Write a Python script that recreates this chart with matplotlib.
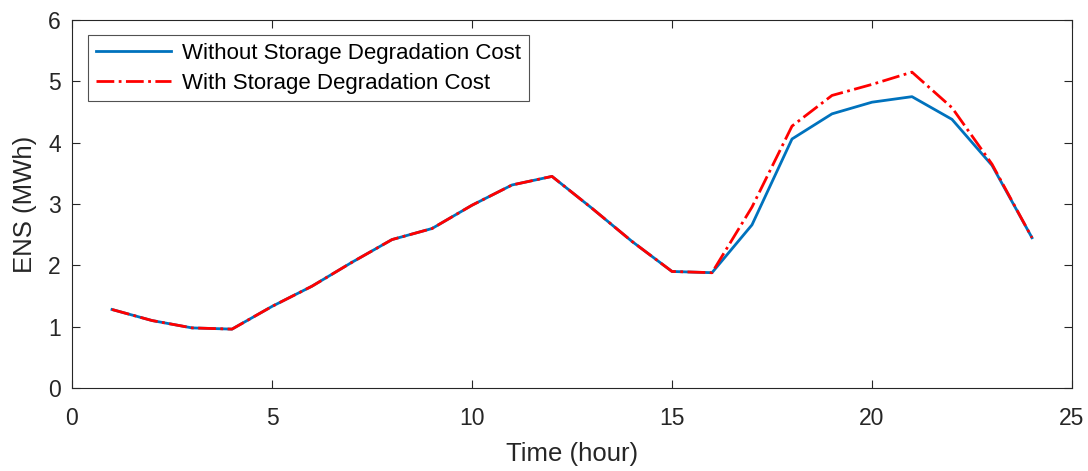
import matplotlib.pyplot as plt

plt.rcParams['font.family'] = ['Liberation Sans', 'DejaVu Sans']

hours = list(range(1, 25))
ens_without = [1.28, 1.10, 0.98, 0.96, 1.33, 1.66, 2.05, 2.42, 2.60, 2.98, 3.31, 3.45,
               2.93, 2.39, 1.90, 1.88, 2.66, 4.06, 4.47, 4.66, 4.75, 4.38, 3.63, 2.45]
ens_with = [1.28, 1.10, 0.98, 0.96, 1.33, 1.66, 2.05, 2.42, 2.60, 2.98, 3.31, 3.45,
            2.93, 2.39, 1.90, 1.88, 2.95, 4.27, 4.77, 4.95, 5.15, 4.57, 3.65, 2.45]

axis_col = '#262626'

fig = plt.figure(figsize=(10.88, 4.71), dpi=100)
ax = fig.add_axes([72/1088, 1 - 388/471, 1000/1088, 368/471])

ax.plot(hours, ens_without, color='#0072BD', lw=2.0, label='Without Storage Degradation Cost')
ax.plot(hours, ens_with, color='red', lw=2.0, ls='-.', label='With Storage Degradation Cost')

ax.set_xlim(0, 25)
ax.set_ylim(0, 6)
ax.set_xticks([0, 5, 10, 15, 20, 25])
ax.set_yticks(range(0, 7))
ax.set_xlabel('Time (hour)', fontsize=18.5, color=axis_col, labelpad=8.5)
ax.set_ylabel('ENS (MWh)', fontsize=18.5, color=axis_col, labelpad=8)
ax.tick_params(direction='in', top=True, right=True, labelsize=16.5, colors=axis_col, length=6, width=0.8)
ax.tick_params(axis='x', pad=13.5)
ax.tick_params(axis='y', pad=8)
for s in ax.spines.values():
    s.set_color(axis_col)
    s.set_linewidth(0.8)

leg = ax.legend(loc='upper left', bbox_to_anchor=(16/1000, 1 - 15/368), fontsize=16, frameon=True,
                fancybox=False, edgecolor=axis_col, handlelength=3.4, borderpad=0.35,
                labelspacing=0.4, handletextpad=0.5, borderaxespad=0)
leg.get_frame().set_linewidth(0.8)

fig.savefig('out.png', dpi=100)
